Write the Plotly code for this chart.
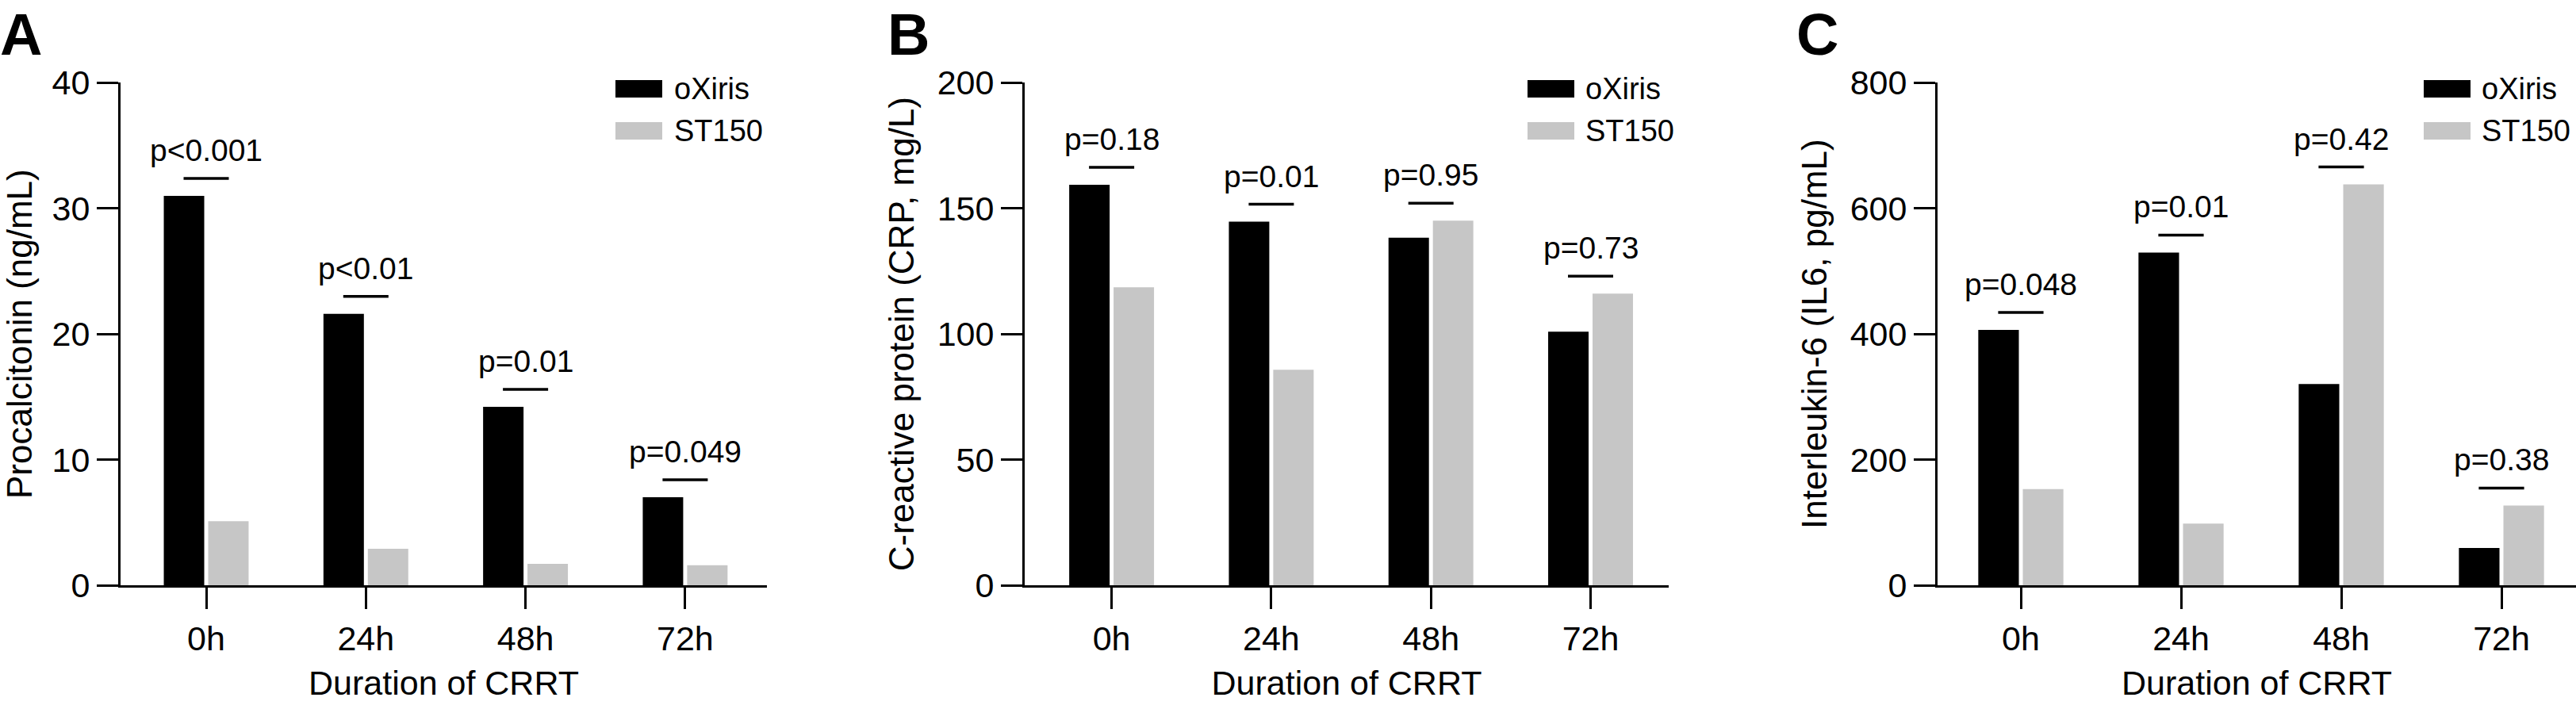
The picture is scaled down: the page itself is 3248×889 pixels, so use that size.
import plotly.graph_objects as go

# ---------------- data ----------------
categories = ["0h", "24h", "48h", "72h"]
series_names = ["oXiris", "ST150"]

pct_oxiris = [31.0, 21.6, 14.2, 7.0]
pct_st150 = [5.1, 2.9, 1.7, 1.6]
pct_p = ["p<0.001", "p<0.01", "p=0.01", "p=0.049"]

crp_oxiris = [159.4, 144.7, 138.3, 100.9]
crp_st150 = [118.6, 85.8, 145.1, 116.1]
crp_p = ["p=0.18", "p=0.01", "p=0.95", "p=0.73"]

il6_oxiris = [406.6, 529.6, 320.2, 59.3]
il6_st150 = [153.0, 98.0, 638.0, 127.0]
il6_p = ["p=0.048", "p=0.01", "p=0.42", "p=0.38"]

y_max = [40, 200, 800]
y_dtick = [10, 50, 200]
y_titles = ["Procalcitonin (ng/mL)", "C-reactive protein (CRP, mg/L)", "Interleukin-6 (IL6, pg/mL)"]
x_title = "Duration of CRRT"
panel_letters = ["A", "B", "C"]

# ---------------- layout geometry (pixels) ----------------
W, H = 3248, 889
FONT = "Arial, Liberation Sans, sans-serif"
COL_A = "#000000"
COL_B = "#c6c6c6"

# per panel: axis left px, axis right px, first category px, category spacing px
panels_geo = [
    (152, 967, 260.0, 201.3),
    (1292, 2104, 1401.6, 201.3),
    (2443, 3248, 2548.0, 202.0),
]
legend_geo = [(776, 848), (1926, 1997), (3056, 3127)]
letter_x = [0, 1119, 2265]
y_bottom_px, y_top_px = 738.0, 104.3
ydom = [(H - y_bottom_px) / H, (H - y_top_px) / H]

data_sets = [
    (pct_oxiris, pct_st150, pct_p),
    (crp_oxiris, crp_st150, crp_p),
    (il6_oxiris, il6_st150, il6_p),
]

fig = go.Figure()
shapes = []
annotations = []

for k, (vals_a, vals_b, pvals) in enumerate(data_sets):
    xa = "x" if k == 0 else f"x{k+1}"
    ya = "y" if k == 0 else f"y{k+1}"
    fig.add_trace(go.Bar(x=categories, y=vals_a, name=series_names[0], marker=dict(color=COL_A, line=dict(width=0)),
                         xaxis=xa, yaxis=ya, showlegend=False))
    fig.add_trace(go.Bar(x=categories, y=vals_b, name=series_names[1], marker=dict(color=COL_B, line=dict(width=0)),
                         xaxis=xa, yaxis=ya, showlegend=False))

    left, right, first, sp = panels_geo[k]
    xr = [-(first - left) / sp, (right - first) / sp]
    axis_common = dict(showline=True, linecolor="black", linewidth=3, ticks="outside", ticklen=27,
                       tickwidth=3, tickcolor="black", showgrid=False, zeroline=False, automargin=False,
                       tickfont=dict(family=FONT, size=43, color="black"))
    fig.layout[("xaxis" if k == 0 else f"xaxis{k+1}")] = dict(
        domain=[left / W, min(right / W, 1.0)], anchor=ya, type="category",
        categoryorder="array", categoryarray=categories, range=xr,
        title=dict(text=x_title, font=dict(family=FONT, size=43, color="black"), standoff=19),
        **axis_common)
    fig.layout[("yaxis" if k == 0 else f"yaxis{k+1}")] = dict(
        domain=ydom, anchor=xa, range=[0, y_max[k]], dtick=y_dtick[k], tick0=0,
        title=dict(text=y_titles[k], font=dict(family=FONT, size=44, color="black"), standoff=16),
        **axis_common)

    # significance bars and p-values
    ppu = (y_bottom_px - y_top_px) / y_max[k]
    for i, cat in enumerate(categories):
        ly = max(vals_a[i], vals_b[i]) + 22 / ppu
        shapes.append(dict(type="line", xref=xa, yref=ya, x0=i - 0.1416, x1=i + 0.1416, y0=ly, y1=ly,
                           line=dict(color="black", width=3.5)))
        annotations.append(dict(text=pvals[i], xref=xa, yref=ya, x=i, y=ly, yanchor="bottom",
                                xanchor="center", yshift=12, showarrow=False,
                                font=dict(family=FONT, size=39, color="black")))

    # legend (manual)
    sx, tx = legend_geo[k]
    for j, (nm, col) in enumerate(zip(series_names, [COL_A, COL_B])):
        top = 101 + j * 53
        shapes.append(dict(type="rect", xref="paper", yref="paper", x0=sx / W, x1=(sx + 59) / W,
                           y0=(H - top - 22) / H, y1=(H - top) / H, fillcolor=col, line=dict(width=0)))
        annotations.append(dict(text=nm, xref="paper", yref="paper", x=tx / W, y=(H - top - 11) / H,
                                xanchor="left", yanchor="middle", showarrow=False,
                                font=dict(family=FONT, size=38, color="black")))

    # panel letter
    annotations.append(dict(text=f"<b>{panel_letters[k]}</b>", xref="paper", yref="paper",
                            x=letter_x[k] / W, y=1.0, xanchor="left", yanchor="top", showarrow=False,
                            xshift=-2, font=dict(family=FONT, size=74, color="black")))

fig.update_layout(
    width=W, height=H, margin=dict(l=0, r=0, t=0, b=0),
    paper_bgcolor="white", plot_bgcolor="white",
    barmode="group", bargap=0.444, bargroupgap=0.089,
    shapes=shapes, annotations=annotations, showlegend=False,
)

fig.write_html("out.html", config={"displayModeBar": False},
               post_script="document.body.style.margin='0';")
